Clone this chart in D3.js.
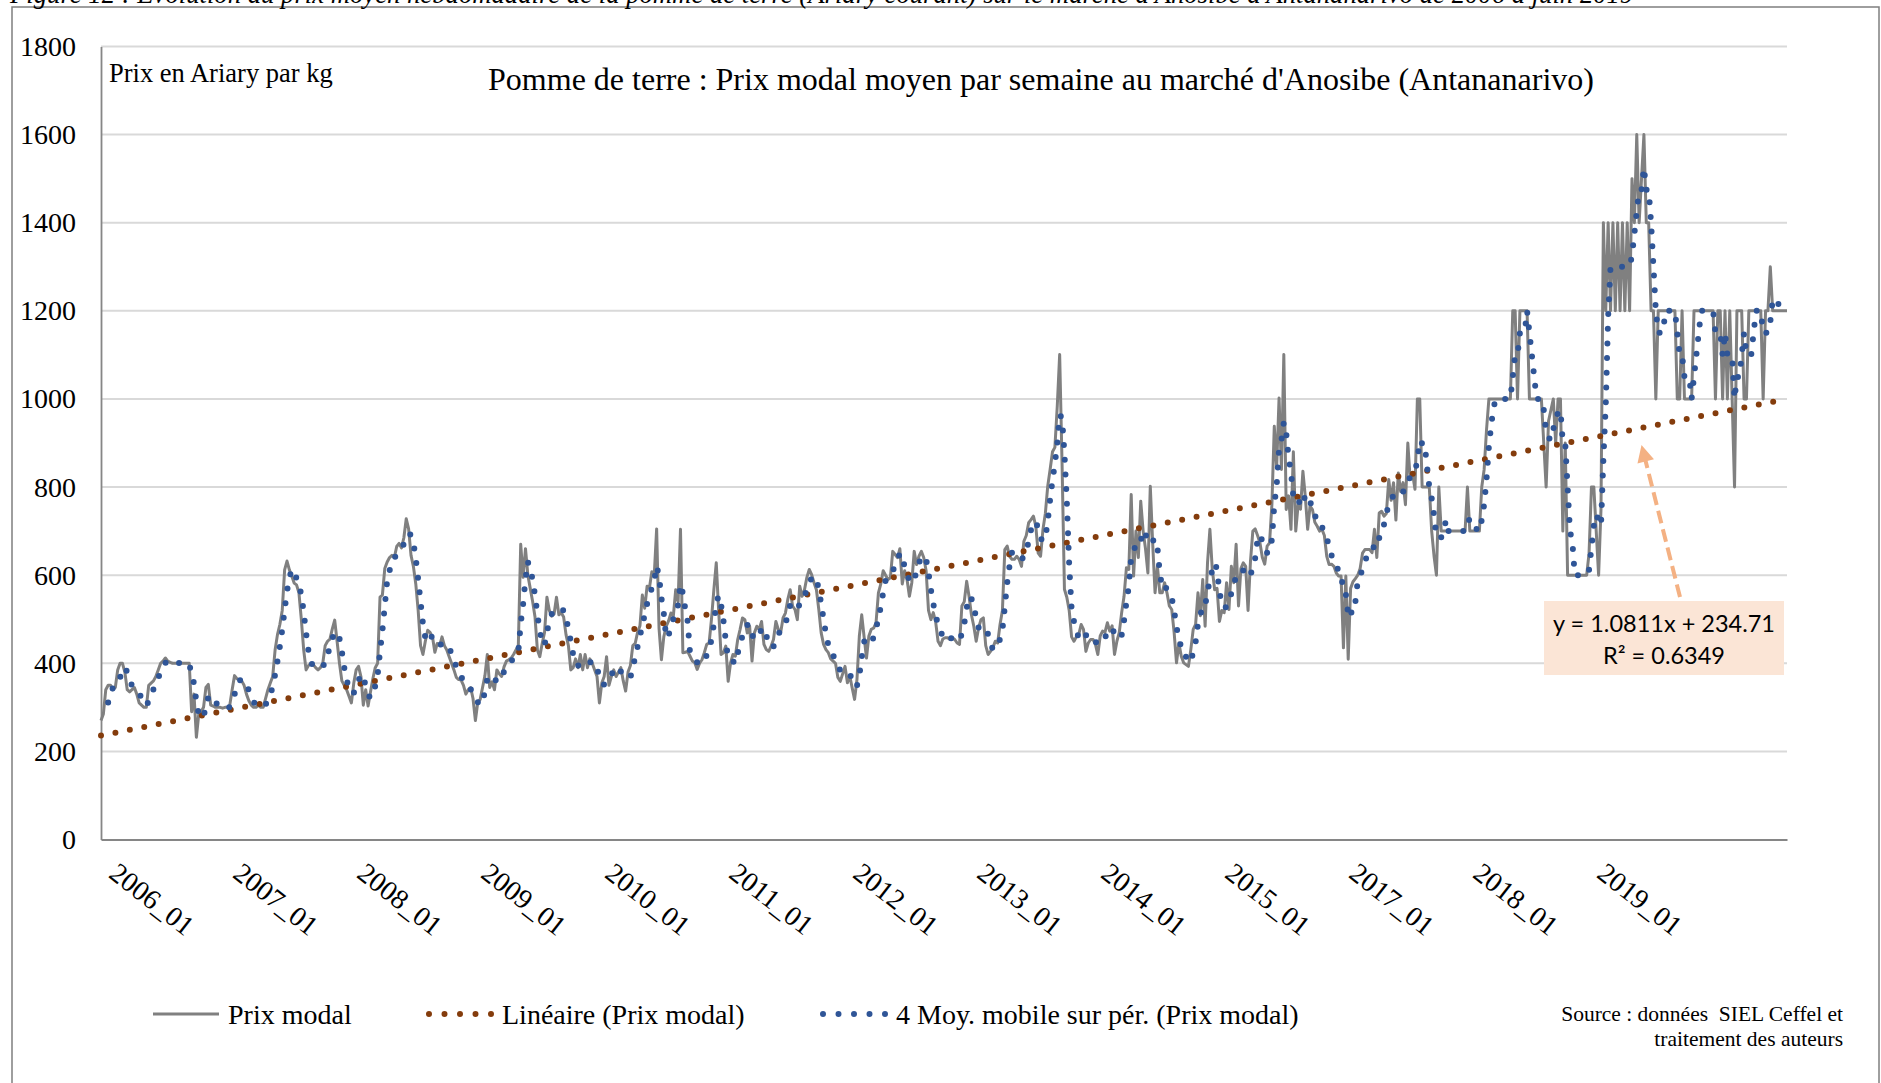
<!DOCTYPE html>
<html>
<head>
<meta charset="utf-8">
<script src="https://cdn.jsdelivr.net/npm/d3@7"></script>
<style>
  html, body { margin: 0; padding: 0; background: #ffffff; }
  svg { display: block; }
</style>
</head>
<body>
<svg id="chart" width="1881" height="1083"></svg>
<script>
// Prix modal hebdomadaire (Ariary par kg), marché d'Anosibe
const prixModal = [
  270, 285, 340, 350, 350, 340, 345, 385, 400, 400, 380, 340, 335, 340, 345, 330, 310, 305, 300, 300,
  350, 355, 360, 370, 385, 400, 405, 412, 405, 402, 400, 400, 400, 402, 400, 400, 400, 400, 290, 330,
  232, 285, 290, 300, 345, 352, 305, 303, 300, 300, 300, 298, 300, 300, 305, 340, 372, 365, 362, 360,
  350, 330, 315, 305, 300, 300, 305, 300, 300, 320, 340, 355, 370, 430, 465, 488, 520, 612, 632, 612,
  598, 582, 578, 560, 500, 430, 385, 395, 400, 397, 390, 385, 390, 400, 440, 450, 455, 478, 498, 450,
  400, 360, 350, 340, 325, 310, 355, 385, 393, 370, 305, 340, 303, 335, 365, 390, 400, 550, 555, 615,
  630, 640, 645, 640, 665, 672, 662, 685, 728, 705, 645, 620, 580, 520, 440, 420, 450, 475, 470, 460,
  425, 445, 440, 460, 440, 430, 415, 400, 385, 368, 363, 362, 350, 330, 340, 345, 320, 270, 312, 318,
  345, 372, 420, 345, 358, 340, 385, 376, 370, 392, 405, 408, 412, 420, 430, 440, 670, 595, 660, 600,
  570, 540, 505, 430, 415, 445, 470, 550, 520, 507, 512, 550, 510, 515, 505, 465, 440, 385, 390, 410,
  390, 420, 385, 420, 390, 410, 400, 385, 370, 310, 355, 370, 415, 350, 370, 385, 370, 380, 390, 360,
  337, 380, 395, 440, 445, 470, 485, 555, 525, 575, 572, 608, 600, 705, 480, 408, 460, 484, 496, 514,
  507, 567, 540, 704, 424, 425, 427, 416, 405, 401, 386, 400, 408, 424, 443, 446, 500, 567, 628, 520,
  420, 424, 439, 359, 401, 420, 416, 454, 477, 503, 499, 469, 484, 405, 469, 484, 477, 495, 443, 431,
  427, 439, 454, 495, 477, 469, 503, 514, 545, 567, 530, 522, 499, 575, 552, 567, 595, 613, 601, 583,
  567, 522, 469, 443, 431, 424, 410, 405, 400, 368, 359, 376, 393, 356, 371, 344, 318, 363, 462, 510,
  460, 412, 462, 477, 480, 492, 560, 580, 610, 600, 590, 594, 654, 647, 640, 660, 580, 610, 590, 552,
  583, 654, 624, 643, 654, 640, 610, 520, 499, 515, 494, 450, 440, 455, 458, 458, 454, 458, 454, 446,
  443, 530, 540, 586, 552, 510, 484, 450, 480, 499, 503, 440, 420, 427, 435, 450, 446, 488, 520, 658,
  666, 643, 636, 636, 643, 636, 620, 677, 690, 719, 726, 734, 711, 650, 643, 704, 740, 802, 840, 880,
  890, 984, 1101, 855, 568, 550, 520, 460, 450, 460, 465, 488, 477, 427, 446, 454, 454, 443, 420, 462,
  473, 470, 492, 473, 485, 420, 450, 470, 515, 552, 617, 613, 783, 598, 700, 640, 768, 700, 660, 605,
  802, 673, 560, 620, 560, 560, 583, 560, 530, 522, 470, 401, 446, 416, 401, 397, 393, 431, 477, 488,
  560, 508, 590, 484, 628, 704, 613, 567, 570, 495, 520, 515, 583, 522, 620, 583, 670, 530, 615, 628,
  620, 520, 630, 700, 705, 690, 673, 640, 625, 666, 673, 760, 938, 845, 1002, 840, 1101, 749, 780, 704,
  880, 700, 760, 750, 836, 779, 704, 757, 749, 720, 711, 700, 704, 690, 643, 624, 625, 620, 605, 598,
  598, 435, 598, 409, 570, 585, 592, 600, 615, 650, 658, 658, 658, 651, 704, 640, 741, 745, 734, 740,
  817, 770, 810, 725, 832, 790, 810, 760, 900, 817, 830, 795, 1000, 1000, 800, 800, 800, 800, 700, 643,
  600, 800, 700, 700, 700, 700, 700, 700, 700, 700, 700, 700, 700, 800, 700, 700, 700, 700, 700, 800,
  840, 930, 1000, 1000, 1000, 1000, 1000, 1000, 1000, 1000, 1000, 1000, 1200, 1200, 1000, 1200, 1200, 1200, 1200, 1000,
  1000, 1000, 1000, 1000, 1000, 900, 800, 950, 975, 1000, 900, 1000, 1000, 700, 900, 600, 600, 600, 600, 600,
  600, 600, 600, 600, 650, 800, 800, 700, 600, 750, 1400, 1200, 1400, 1200, 1400, 1200, 1400, 1200, 1400, 1200,
  1400, 1200, 1500, 1400, 1600, 1400, 1500, 1600, 1400, 1400, 1200, 1200, 1000, 1200, 1200, 1200, 1200, 1200, 1200, 1200,
  1200, 1000, 1000, 1200, 1000, 1000, 1000, 1000, 1200, 1200, 1200, 1200, 1200, 1200, 1200, 1200, 1200, 1000, 1200, 1200,
  1000, 1200, 1000, 1200, 1000, 800, 1200, 1200, 1200, 1000, 1000, 1200, 1200, 1200, 1200, 1200, 1200, 1000, 1200, 1200,
  1300, 1200, 1200, 1200, 1200, 1200, 1200, 1200
];

// Category labels shown on the horizontal axis, one every 52 weeks
const etiquettes = ["2006_01", "2007_01", "2008_01", "2009_01", "2010_01", "2011_01", "2012_01",
                    "2013_01", "2014_01", "2015_01", "2017_01", "2018_01", "2019_01"];
const pasEtiquettes = 52;

const graduationsY = [0, 200, 400, 600, 800, 1000, 1200, 1400, 1600, 1800];

// Linear trend reported by the spreadsheet (x = week rank starting at 1)
const tendancePente = 1.0811;
const tendanceOrigine = 234.71;
const tendanceR2 = 0.6349;

// Moving-average window (periods)
const periodesMoyenne = 4;

const legende = [
  { texte: "Prix modal", style: "ligne" },
  { texte: "Linéaire (Prix modal)", style: "tendance" },
  { texte: "4 Moy. mobile sur pér. (Prix modal)", style: "moyenne" }
];

// ---------------------------------------------------------------------------
const serif = "'Liberation Serif', 'Times New Roman', serif";
const couleurs = {
  prix: "#808080",
  tendance: "#843c0c",
  moyenne: "#2f5597",
  grille: "#d9d9d9",
  axe: "#868686",
  cadre: "#7f7f7f",
  note: "#fbe5d6",
  fleche: "#f4b183"
};

const svg = d3.select("#chart");
const zone = { gauche: 101, droite: 1787, haut: 46.5, bas: 839.5 };

const x = d3.scaleLinear().domain([0, prixModal.length - 1]).range([zone.gauche, zone.droite]);
const y = d3.scaleLinear().domain([0, 1800]).range([zone.bas, zone.haut]);

// outer frame of the figure
svg.append("rect")
  .attr("x", 12).attr("y", 7)
  .attr("width", 1867).attr("height", 1200)
  .attr("fill", "none")
  .attr("stroke", couleurs.cadre)
  .attr("stroke-width", 1.5);

// figure caption, cropped by the top edge
svg.append("text")
  .attr("x", 10).attr("y", 3)
  .attr("font-family", serif)
  .attr("font-style", "italic")
  .attr("font-size", 26.7)
  .text("Figure 12 : Evolution du prix moyen hebdomadaire de la pomme de terre (Ariary courant) sur le marché d'Anosibe d'Antananarivo de 2006 à juin 2019");

// horizontal gridlines
svg.append("g")
  .selectAll("line")
  .data(graduationsY.filter(d => d > 0))
  .join("line")
  .attr("x1", zone.gauche).attr("x2", zone.droite)
  .attr("y1", d => y(d)).attr("y2", d => y(d))
  .attr("stroke", couleurs.grille)
  .attr("stroke-width", 2);

// vertical axis
const axeY = svg.append("g")
  .attr("transform", `translate(${zone.gauche},0)`)
  .call(d3.axisLeft(y)
    .tickValues(graduationsY)
    .tickFormat(d3.format("d"))
    .tickSize(0)
    .tickPadding(25));
axeY.select(".domain").attr("stroke", couleurs.axe).attr("stroke-width", 1.8);
axeY.selectAll("text")
  .attr("font-family", serif)
  .attr("font-size", 28)
  .attr("fill", "#000");

// horizontal axis with rotated category labels
const positionsEtiquettes = etiquettes.map((_, k) => k * pasEtiquettes);
const axeX = svg.append("g")
  .attr("transform", `translate(0,${zone.bas})`)
  .call(d3.axisBottom(x)
    .tickValues(positionsEtiquettes)
    .tickFormat((d, k) => etiquettes[k])
    .tickSize(0));
axeX.select(".domain").attr("stroke", couleurs.axe).attr("stroke-width", 1.8);
axeX.selectAll("text")
  .attr("font-family", serif)
  .attr("font-size", 28)
  .attr("fill", "#000")
  .attr("text-anchor", "start")
  .attr("y", null)
  .attr("dy", null)
  .attr("transform", "translate(6,37) rotate(38)");

// price series
const lignePrix = d3.line()
  .x((d, i) => x(i))
  .y(d => y(d));

svg.append("path")
  .datum(prixModal)
  .attr("d", lignePrix)
  .attr("fill", "none")
  .attr("stroke", couleurs.prix)
  .attr("stroke-width", 3)
  .attr("stroke-linejoin", "round");

// linear trend
const bornesTendance = [0, prixModal.length - 1];
svg.append("path")
  .datum(bornesTendance)
  .attr("d", d3.line()
    .x(i => x(i))
    .y(i => y(tendancePente * (i + 1) + tendanceOrigine)))
  .attr("fill", "none")
  .attr("stroke", couleurs.tendance)
  .attr("stroke-width", 6)
  .attr("stroke-linecap", "round")
  .attr("stroke-dasharray", "0 14.7");

// moving average
const moyenneMobile = [];
for (let i = periodesMoyenne - 1; i < prixModal.length; i++) {
  moyenneMobile.push({ i, v: d3.mean(prixModal.slice(i - periodesMoyenne + 1, i + 1)) });
}
svg.append("path")
  .datum(moyenneMobile)
  .attr("d", d3.line().x(d => x(d.i)).y(d => y(d.v)))
  .attr("fill", "none")
  .attr("stroke", couleurs.moyenne)
  .attr("stroke-width", 6)
  .attr("stroke-linecap", "round")
  .attr("stroke-linejoin", "round")
  .attr("stroke-dasharray", "0 14.7");

// chart title and unit
svg.append("text")
  .attr("x", 1041).attr("y", 79)
  .attr("text-anchor", "middle")
  .attr("dominant-baseline", "central")
  .attr("font-family", serif)
  .attr("font-size", 32)
  .text("Pomme de terre : Prix modal moyen par semaine au marché d'Anosibe (Antananarivo)");

svg.append("text")
  .attr("x", 109).attr("y", 73)
  .attr("dominant-baseline", "central")
  .attr("font-family", serif)
  .attr("font-size", 26.5)
  .text("Prix en Ariary par kg");

// trend equation box with its arrow
const iFleche = 646;
const pointe = [x(iFleche), y(tendancePente * (iFleche + 1) + tendanceOrigine) + 17];
const base = [1680, 597];
const dx = pointe[0] - base[0], dy = pointe[1] - base[1];
const longueur = Math.hypot(dx, dy);
const ux = dx / longueur, uy = dy / longueur;
const tete = 17, demi = 8.5;
svg.append("line")
  .attr("x1", base[0]).attr("y1", base[1])
  .attr("x2", pointe[0] - ux * (tete - 2)).attr("y2", pointe[1] - uy * (tete - 2))
  .attr("stroke", couleurs.fleche)
  .attr("stroke-width", 4)
  .attr("stroke-dasharray", "13 6");
svg.append("polygon")
  .attr("points", [
    pointe,
    [pointe[0] - ux * tete - uy * demi, pointe[1] - uy * tete + ux * demi],
    [pointe[0] - ux * tete + uy * demi, pointe[1] - uy * tete - ux * demi]
  ].map(p => p.join(",")).join(" "))
  .attr("fill", couleurs.fleche);

svg.append("rect")
  .attr("x", 1544).attr("y", 601)
  .attr("width", 240).attr("height", 74)
  .attr("fill", couleurs.note);

const fmt = d3.format(".4f");
const equation = svg.append("g")
  .attr("font-family", "Lato, 'Open Sans', sans-serif")
  .attr("font-size", 23.5)
  .attr("text-anchor", "middle")
  .attr("fill", "#000");
equation.append("text").attr("x", 1664).attr("y", 632)
  .text(`y = ${fmt(tendancePente)}x + ${tendanceOrigine}`);
equation.append("text").attr("x", 1664).attr("y", 664)
  .text(`R² = ${fmt(tendanceR2)}`);

// legend
const legendeX = [153, 426, 820];
const legendeY = 1014;
const gLeg = svg.append("g");
legende.forEach((item, k) => {
  const x0 = legendeX[k];
  const trait = gLeg.append("line")
    .attr("x1", x0).attr("x2", x0 + 66)
    .attr("y1", legendeY).attr("y2", legendeY)
    .attr("fill", "none");
  if (item.style === "ligne") {
    trait.attr("stroke", couleurs.prix).attr("stroke-width", 3);
  } else {
    trait.attr("x1", x0 + 3).attr("x2", x0 + 66)
      .attr("stroke", item.style === "tendance" ? couleurs.tendance : couleurs.moyenne)
      .attr("stroke-width", 6)
      .attr("stroke-linecap", "round")
      .attr("stroke-dasharray", "0 15.5");
  }
  gLeg.append("text")
    .attr("x", x0 + (item.style === "ligne" ? 75 : 76))
    .attr("y", legendeY)
    .attr("dominant-baseline", "central")
    .attr("font-family", serif)
    .attr("font-size", 28)
    .text(item.texte);
});

// data source
const source = svg.append("g")
  .attr("font-family", serif)
  .attr("font-size", 21.5)
  .attr("text-anchor", "end");
source.append("text").attr("x", 1843).attr("y", 1014)
  .attr("dominant-baseline", "central")
  .text("Source : données\u00a0 SIEL Ceffel et");
source.append("text").attr("x", 1843).attr("y", 1039)
  .attr("dominant-baseline", "central")
  .text("traitement des auteurs");
</script>
</body>
</html>
